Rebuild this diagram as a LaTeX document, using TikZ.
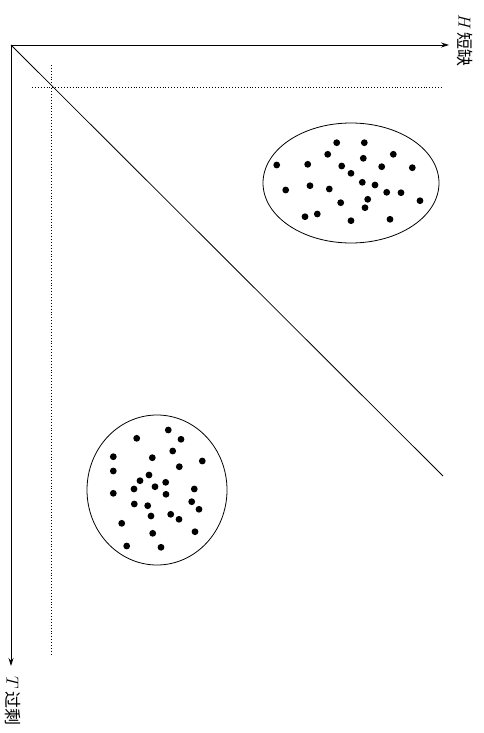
\documentclass[tikz,border=0pt]{standalone}
\usepackage{fontspec}
\newfontfamily\cjk{Noto Sans CJK SC}
\usetikzlibrary{arrows.meta}
\begin{document}
\begin{tikzpicture}[x=1pt,y=-1pt,
  axis/.style={line width=0.8pt,-{Stealth[length=8pt,width=5pt]}},
  guide/.style={line width=0.9pt,dotted},
  dot/.style={circle,fill=black,inner sep=0pt,minimum size=6.8pt},
  lab/.style={rotate=-90,anchor=west,inner sep=0pt,font=\fontsize{17}{17}\selectfont}]
\useasboundingbox (0,0) rectangle (483,733);
\coordinate (O) at (11,45);
\coordinate (Hend) at (449,45);
\coordinate (Tend) at (11,666);
\coordinate (D) at (443,476);
\coordinate (h1) at (32,87);
\coordinate (h2) at (441,87);
\coordinate (v1) at (51,65);
\coordinate (v2) at (51,655);
\draw[axis] (O) -- (Hend);
\draw[axis] (O) -- (Tend);
\draw[line width=0.8pt] (O) -- (D);
\draw[guide] (h1) -- (h2);
\draw[guide] (v1) -- (v2);
\node[lab] (Hl) at (465,14) {$H$\,{\cjk 短缺}};
\node[lab] (Tl) at (13,676) {$T$\,{\cjk 过剩}};
\draw[line width=0.8pt] (351,183) ellipse [x radius=88, y radius=60];
\draw[line width=0.8pt] (157,490) ellipse [x radius=70, y radius=75];
\foreach \p [count=\i] in {(336.7,142.7),(364.3,142.7),(327.7,154.3),(363.3,158.3),(393.3,154.3),(276.7,165),(307.7,164.3),(341.7,166),(381.7,166.7),(412.3,167.7),(351,173.3),(362.3,182.3),(375,185),(285.7,190),(310,185.7),(329.3,189),(386.7,192.3),(401,192.7),(420,200.7),(340.7,202.7),(367.7,199.3),(365,207.7),(305,216.7),(317.3,214),(351,220.7),(390,219.3)}
  \node[dot] (a\i) at \p {};
\foreach \p [count=\i] in {(168.3,430),(136.7,438.3),(181,439.3),(172.7,451),(113.3,456.7),(152.3,457.7),(202.3,461),(179.3,466.7),(113.3,471),(149,475),(140,480.7),(165.7,482.3),(155,486.7),(134,489),(194.3,489),(113.3,493.3),(166,494.3),(134.3,504),(191.7,501.7),(147.7,505.7),(199,509.3),(151,516),(170.7,514.3),(179,519.3),(121.7,523.3),(152.7,533.3),(195,531.7),(126.7,546),(161,547.3)}
  \node[dot] (b\i) at \p {};
\end{tikzpicture}
\end{document}
